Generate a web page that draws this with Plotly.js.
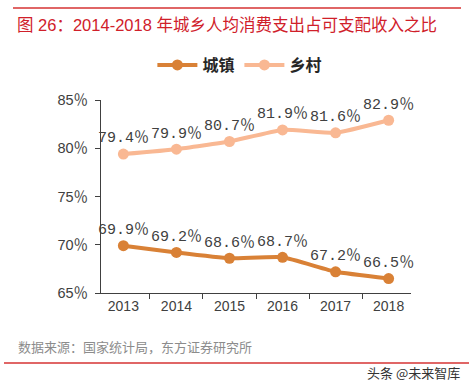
<!DOCTYPE html>
<html>
<head>
<meta charset="utf-8">
<script src="https://cdn.plot.ly/plotly-3.0.1.min.js"></script>
<style>html,body{margin:0;padding:0;background:#fff;}#chart{width:473px;height:388px;}</style>
</head>
<body>
<div id="chart"></div>
<script>
const years = ['2013', '2014', '2015', '2016', '2017', '2018'];
const urban = [69.9, 69.2, 68.6, 68.7, 67.2, 66.5];
const rural = [79.4, 79.9, 80.7, 81.9, 81.6, 82.9];
const seriesNames = ['城镇', '乡村'];
const yTicks = [65, 70, 75, 80, 85];
const pct = '<span style="font-family:Noto Sans CJK SC">％</span>';
const yTickLabels = yTicks.map(v => v + pct);

const labelFont = {family: 'Liberation Mono, monospace', size: 15, color: '#404040'};
function labels(arr) { return arr.map(v => v.toFixed(1) + pct); }

const traces = [
  {x: years, y: urban, name: seriesNames[0], type: 'scatter', mode: 'lines+markers+text',
   line: {color: '#D98136', width: 4, shape: 'spline', smoothing: 0.4},
   marker: {color: '#D98136', size: 11},
   text: labels(urban), textposition: 'top center', textfont: labelFont, cliponaxis: false},
  {x: years, y: rural, name: seriesNames[1], type: 'scatter', mode: 'lines+markers+text',
   line: {color: '#F9B893', width: 4, shape: 'spline', smoothing: 0.4},
   marker: {color: '#F9B893', size: 11},
   text: labels(rural), textposition: 'top center', textfont: labelFont, cliponaxis: false}
];

const layout = {
  width: 473, height: 388,
  margin: {l: 101, r: 62, t: 100, b: 95},
  paper_bgcolor: '#fff', plot_bgcolor: '#fff',
  showlegend: true,
  title: {text: '<span style="font-family:Noto Sans CJK SC">图</span> 26<span style="font-family:Noto Sans CJK SC">：</span>2014-2018 <span style="font-family:Noto Sans CJK SC">年城乡人均消费支出占可支配收入之比</span>',
    x: 17/473, xanchor: 'left', xref: 'container', y: 1 - 25/388, yanchor: 'middle', yref: 'container',
    font: {family: 'Liberation Sans, Arial, sans-serif', size: 16.5, color: '#D0202A', weight: 'normal'}},
  legend: {orientation: 'h', x: 0.448, xanchor: 'center', y: (293-65)/193, yanchor: 'middle',
    font: {family: 'Noto Sans CJK SC, sans-serif', size: 16, color: '#262626', weight: 'bold'},
    itemwidth: 40, traceorder: 'normal', bgcolor: 'rgba(0,0,0,0)'},
  xaxis: {type: 'category', showgrid: false, zeroline: false, showline: true, linecolor: '#404040', linewidth: 1,
    ticks: 'outside', tickson: 'boundaries', ticklen: 5, tickcolor: '#404040',
    tickfont: {family: 'Liberation Sans, Arial, sans-serif', size: 14, color: '#404040'}, fixedrange: true},
  yaxis: {range: [65, 85], tickmode: 'array', tickvals: yTicks, ticktext: yTickLabels, showgrid: false, zeroline: false,
    showline: true, linecolor: '#404040', linewidth: 1, ticks: 'outside', ticklen: 5, tickcolor: '#404040',
    ticklabelstandoff: 4,
    tickfont: {family: 'Liberation Sans, sans-serif', size: 14.5, color: '#404040'}, fixedrange: true},
  shapes: [
    {type: 'line', xref: 'paper', yref: 'paper', x0: (13-101)/310, x1: (461-101)/310, y0: (293-8)/193, y1: (293-8)/193,
     line: {color: '#E06666', width: 2}},
    {type: 'line', xref: 'paper', yref: 'paper', x0: (4-101)/310, x1: (469-101)/310, y0: (293-363)/193, y1: (293-363)/193,
     line: {color: '#E06666', width: 2}}
  ],
  annotations: [
    {text: '数据来源：国家统计局，东方证券研究所', xref: 'paper', yref: 'paper', x: (16-101)/310, xanchor: 'left',
     y: (293-346)/193, yanchor: 'middle', showarrow: false,
     font: {family: 'Noto Sans CJK SC, sans-serif', size: 13, color: '#8C8C8C'}},
    {text: '头条 @未来智库', xref: 'paper', yref: 'paper', x: (462-101)/310, xanchor: 'right',
     y: (293-372)/193, yanchor: 'middle', showarrow: false,
     font: {family: 'Noto Sans CJK SC, sans-serif', size: 13, color: '#333333'}}
  ]
};

Plotly.newPlot('chart', traces, layout, {displayModeBar: false, staticPlot: true});
</script>
</body>
</html>
